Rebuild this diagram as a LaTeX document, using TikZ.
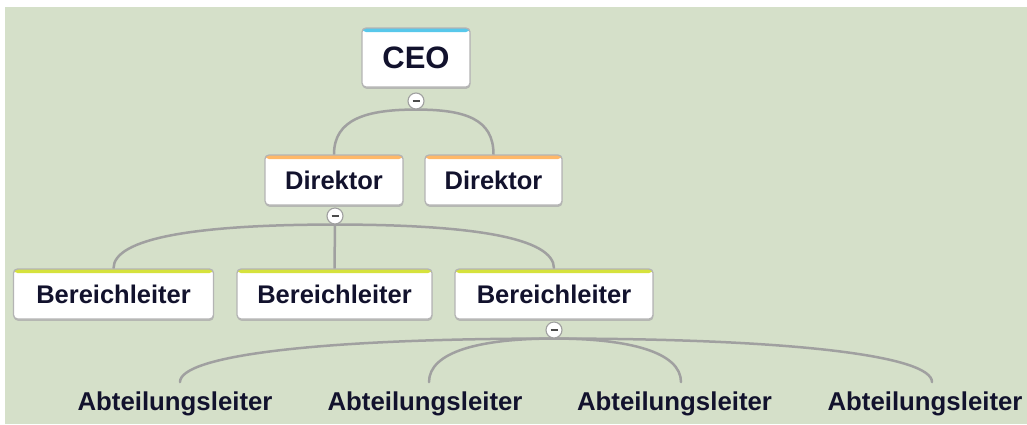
\documentclass[tikz,border=0pt]{standalone}
\usepackage{fontspec}
\setmainfont{Liberation Sans}
\usetikzlibrary{shadows}
\definecolor{bggreen}{RGB}{213,224,201}
\definecolor{boxborder}{RGB}{180,180,180}
\definecolor{linegray}{RGB}{160,160,160}
\definecolor{ceoblue}{RGB}{88,200,235}
\definecolor{dirorange}{RGB}{255,184,104}
\definecolor{bereichgreen}{RGB}{214,226,60}
\definecolor{txt}{RGB}{18,18,45}
\pgfdeclarelayer{bg}
\pgfsetlayers{bg,main}
\tikzset{
  orgbox/.style={rectangle, rounded corners=4pt, fill=white, draw=boxborder,
    line width=1.3pt, inner sep=0pt, text=txt,
    font=\bfseries\fontsize{25.5}{30}\selectfont,
    drop shadow={shadow xshift=0.4pt, shadow yshift=-1.8pt, fill=black!32, opacity=0.8},
    path picture={\fill[#1] (path picture bounding box.north west) rectangle ([yshift=-4pt]path picture bounding box.north east);}},
  togglebtn/.style={circle, fill=white, draw=linegray, line width=1.1pt,
    minimum size=16pt, inner sep=0pt,
    path picture={\draw[black!70, line width=1.8pt] ([xshift=-3.5pt]path picture bounding box.center) -- ([xshift=3.5pt]path picture bounding box.center);}},
  leaf/.style={inner xsep=0pt, inner ysep=9pt, anchor=base, text=txt,
    font=\bfseries\fontsize{25.8}{30}\selectfont},
  conn/.style={draw=linegray, line width=2.5pt, line cap=round}
}
\begin{document}
\begin{tikzpicture}[x=1pt, y=-1pt]
\useasboundingbox (0,0) rectangle (1027,424);
\begin{pgfonlayer}{bg}
  \fill[bggreen] (5,7) rectangle (1027,424);
\end{pgfonlayer}

% boxes
\node[orgbox=ceoblue, minimum width=108pt, minimum height=59pt, font=\bfseries\fontsize{31}{36}\selectfont] (ceo) at (416,57.5) {CEO};
\node[togglebtn] (m1) at (416,101) {};

\node[orgbox=dirorange, minimum width=138pt, minimum height=50pt] (d1) at (334,180) {Direktor};
\node[orgbox=dirorange, minimum width=137pt, minimum height=50pt] (d2) at (493.5,180) {Direktor};
\node[togglebtn] (m2) at (335,216) {};

\node[orgbox=bereichgreen, minimum width=200pt, minimum height=50pt] (b1) at (113.5,294) {Bereichleiter};
\node[orgbox=bereichgreen, minimum width=195pt, minimum height=50pt] (b2) at (334.5,294) {Bereichleiter};
\node[orgbox=bereichgreen, minimum width=198pt, minimum height=50pt] (b3) at (554,294) {Bereichleiter};
\node[togglebtn] (m3) at (554,330) {};

\node[leaf] (a1) at (175,410) {Abteilungsleiter};
\node[leaf] (a2) at (425,410) {Abteilungsleiter};
\node[leaf] (a3) at (674.5,410) {Abteilungsleiter};
\node[leaf] (a4) at (925,410) {Abteilungsleiter};

% connectors
\begin{pgfonlayer}{bg}
  \draw[conn] (m1.south) .. controls +(-50,0) and +(0,-35) .. (d1.north);
  \draw[conn] (m1.south) .. controls +(50,0) and +(0,-35) .. (d2.north);

  \draw[conn] (m2.south) .. controls +(-140,0) and +(0,-30) .. (b1.north);
  \draw[conn] (m2.south) -- (b2.north);
  \draw[conn] (m2.south) .. controls +(140,0) and +(0,-30) .. (b3.north);

  \draw[conn] (m3.south) .. controls +(-240,0) and +(0,-26) .. ([xshift=5pt]a1.north);
  \draw[conn] (m3.south) .. controls +(-75,0) and +(0,-30) .. ([xshift=4pt]a2.north);
  \draw[conn] (m3.south) .. controls +(75,0) and +(0,-30) .. ([xshift=6.5pt]a3.north);
  \draw[conn] (m3.south) .. controls +(240,0) and +(0,-26) .. ([xshift=7pt]a4.north);
\end{pgfonlayer}
\end{tikzpicture}
\end{document}
